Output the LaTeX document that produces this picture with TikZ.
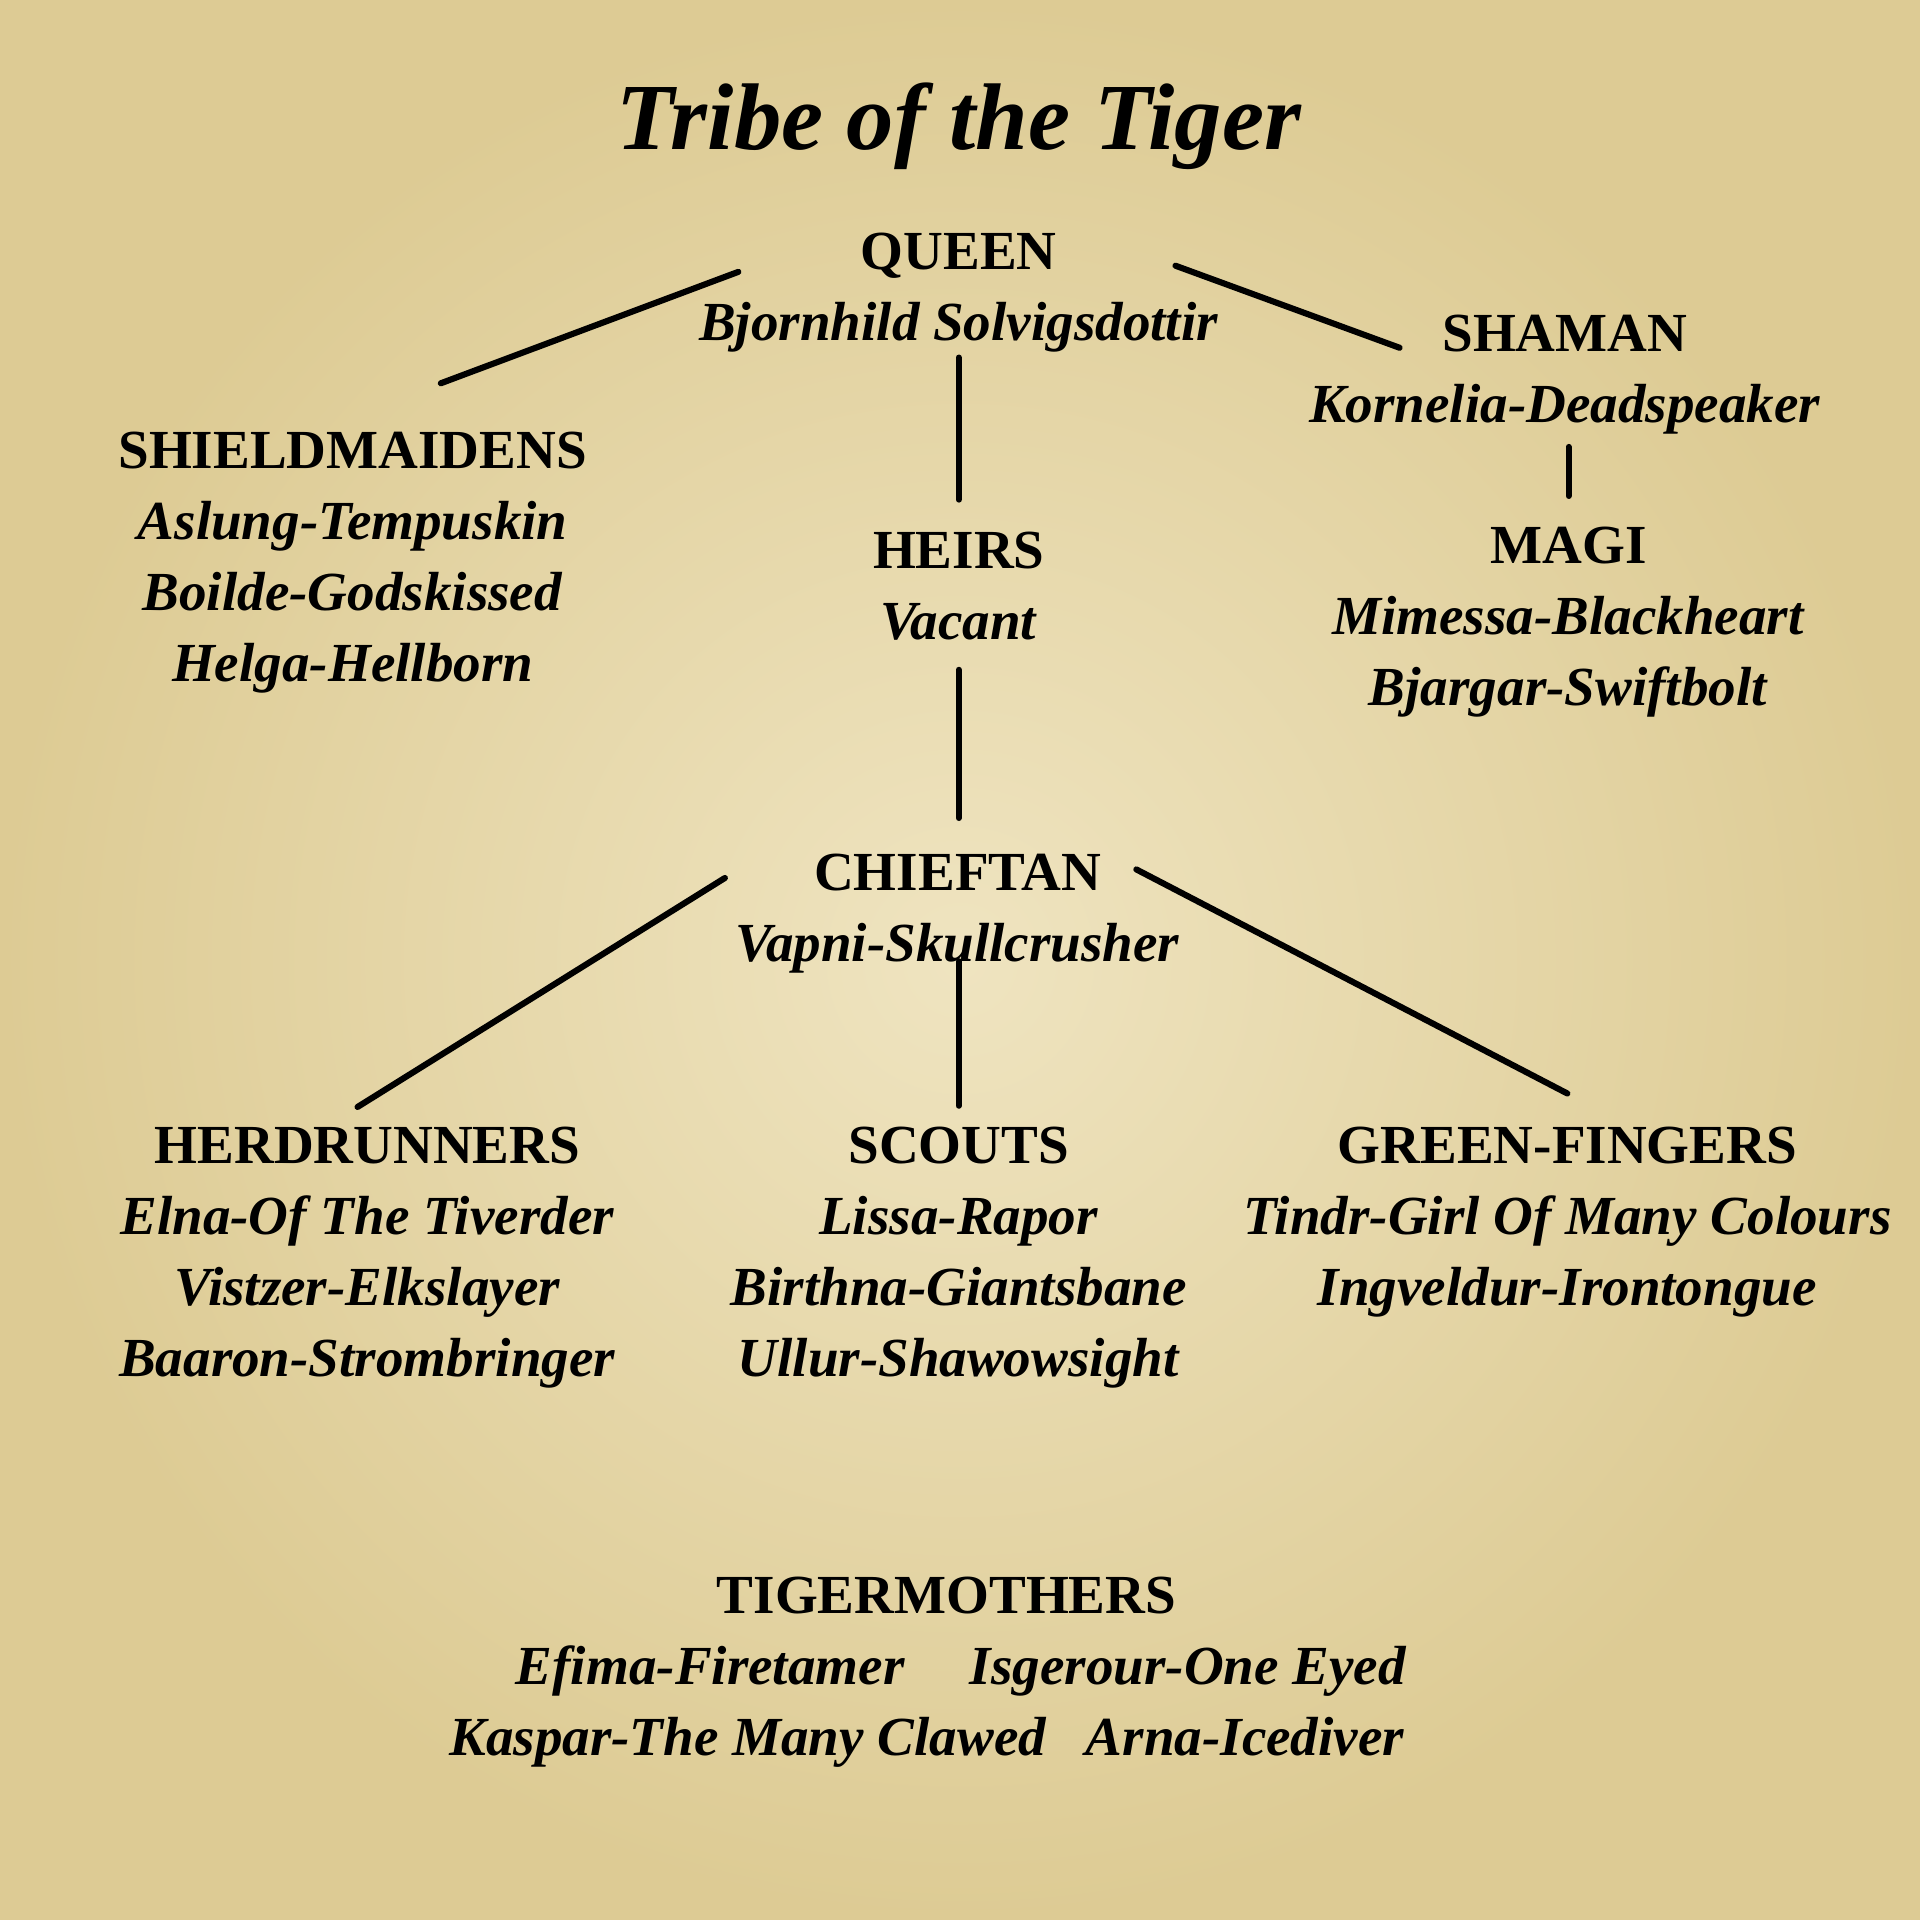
\documentclass[tikz,border=0pt]{standalone}
\usepackage{fontspec}
\setmainfont{Liberation Serif}
\usetikzlibrary{calc}
\definecolor{parchment}{RGB}{239,228,192}
\definecolor{parchedge}{RGB}{221,203,148}
\newcommand\hd[1]{\textbf{#1}}
\newcommand\nm[1]{\textbf{\textit{#1}}}

\begin{document}
\begin{tikzpicture}[x=.1mm,y=-.1mm,line width=.5mm,line cap=round,
  rank/.style={anchor=north,inner sep=0pt,align=center,font=\fontsize{12.8pt}{5.8mm}\selectfont}]
\shade[inner color=parchment,outer color=parchedge] (0,0) rectangle (1568,1568);
\useasboundingbox (0,0) rectangle (1568,1568);
\node[anchor=base,inner sep=0pt,font=\fontsize{22pt}{26pt}\selectfont\bfseries\itshape] (title) at (783,122) {Tribe of the Tiger};
\node[rank] (queen) at (783,188) {\hd{QUEEN}\\\nm{Bjornhild Solvigsdottir}};
\node[rank] (shield) at (288,350) {\hd{SHIELDMAIDENS}\\\nm{Aslung-Tempuskin}\\\nm{Boilde-Godskissed}\\\nm{Helga-Hellborn}};
\node[rank] (shaman) at (1278,255) {\hd{SHAMAN}\\\nm{Kornelia-Deadspeaker}};
\node[rank] (magi) at (1281,428) {\hd{MAGI}\\\nm{Mimessa-Blackheart}\\\nm{Bjargar-Swiftbolt}};
\node[rank] (heirs) at (783,432) {\hd{HEIRS}\\\nm{Vacant}};
\node[rank] (chief) at (782,695) {\hd{CHIEFTAN}\\\nm{Vapni-Skullcrusher}};
\node[rank] (herd) at (300,918) {\hd{HERDRUNNERS}\\\nm{Elna-Of The Tiverder}\\\nm{Vistzer-Elkslayer}\\\nm{Baaron-Strombringer}};
\node[rank] (scouts) at (783,918) {\hd{SCOUTS}\\\nm{Lissa-Rapor}\\\nm{Birthna-Giantsbane}\\\nm{Ullur-Shawowsight}};
\node[rank] (green) at (1280,918) {\hd{GREEN-FINGERS}\\\nm{Tindr-Girl Of Many Colours}\\\nm{Ingveldur-Irontongue}};
\node[rank] (mothers) at (773,1285) {\hd{TIGERMOTHERS}\\
  \hspace*{2.4mm}\nm{Efima-Firetamer}\hspace{5.3mm}\nm{Isgerour-One Eyed}\\
  \nm{Kaspar-The Many Clawed}\hspace{3.2mm}\nm{Arna-Icediver}\hspace*{3.2mm}};
\draw ($(queen.north)+(-180,34)$) -- ($(shield.north)+(72,-37)$);
\draw ($(queen.north)+(177,29)$) -- ($(shaman.north)+(-135,29)$);
\draw ($(queen.north)+(0,104)$) -- ($(heirs.north)+(0,-24)$);
\draw ($(shaman.north)+(3,110)$) -- ($(magi.north)+(0,-23)$);
\draw ($(heirs.north)+(0,115)$) -- ($(chief.north)+(1,-27)$);
\draw ($(chief.north)+(-190,22)$) -- ($(herd.north)+(-8,-14)$);
\draw ($(chief.north)+(146,15)$) -- ($(green.north)+(0,-25)$);
\draw ($(chief.north)+(1,90)$) -- ($(scouts.north)+(0,-15)$);
\end{tikzpicture}
\end{document}
